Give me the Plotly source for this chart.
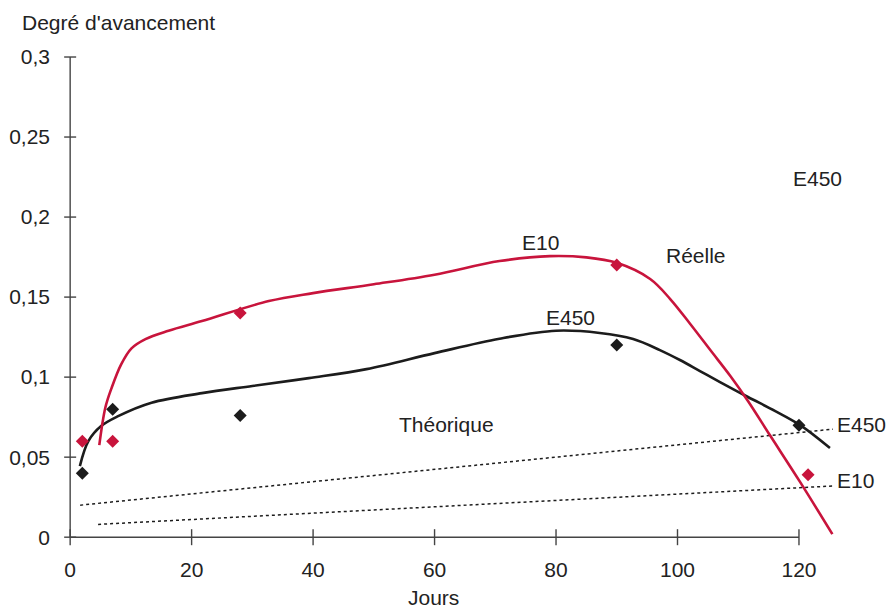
import plotly.graph_objects as go

# ---- data ----
days_obs = [2, 7, 28, 90, 120]
e450_obs = [0.04, 0.08, 0.076, 0.12, 0.07]
days_obs_e10 = [2, 7, 28, 90, 121.5]
e10_obs = [0.06, 0.06, 0.14, 0.17, 0.039]

e450_fit_x = [1.6, 3, 5.1, 7.9, 13.4, 21.7, 30, 39.3, 48.8, 60, 70.7, 80, 87.2, 92.7, 97.1, 100.4, 103.7, 107.0, 111.6, 116.1, 120.2, 125.1]
e450_fit_y = [0.0444, 0.06, 0.0694, 0.0756, 0.084, 0.09, 0.0945, 0.0994, 0.105, 0.115, 0.124, 0.129, 0.1276, 0.1238, 0.1169, 0.1107, 0.1038, 0.0969, 0.0876, 0.0788, 0.0700, 0.0557]

e10_fit_x = [4.8, 5.8, 6.8, 8.4, 10.1, 12.4, 16.2, 21.7, 32.7, 40, 50, 60, 70.7, 79, 85, 90.0, 95.5, 98.8, 102.1, 105.4, 108.7, 111.6, 115.2, 120.2, 125.5]
e10_fit_y = [0.0575, 0.081, 0.093, 0.108, 0.118, 0.1238, 0.129, 0.135, 0.1475, 0.1525, 0.158, 0.164, 0.1725, 0.1756, 0.1748, 0.1714, 0.1613, 0.1488, 0.1332, 0.1169, 0.1007, 0.0851, 0.0638, 0.0344, 0.0019]

theo_e450_x = [1.65, 125.6]
theo_e450_y = [0.02, 0.0675]
theo_e10_x = [4.6, 125.6]
theo_e10_y = [0.008, 0.032]

x_ticks = [0, 20, 40, 60, 80, 100, 120]
x_ticktext = ["0", "20", "40", "60", "80", "100", "120"]
y_ticks = [0, 0.05, 0.1, 0.15, 0.2, 0.25, 0.3]
y_ticktext = ["0", "0,05", "0,1", "0,15", "0,2", "0,25", "0,3"]

RED = "#c8143c"
BLK = "#1c1c1c"
AX = "#444444"
TXT = "#222222"
FONT = "Liberation Sans, Arial, Helvetica, sans-serif"

fig = go.Figure()

fig.add_trace(go.Scatter(x=theo_e450_x, y=theo_e450_y, mode="lines",
                         line=dict(color=BLK, width=1.5, dash="dot"), hoverinfo="skip"))
fig.add_trace(go.Scatter(x=theo_e10_x, y=theo_e10_y, mode="lines",
                         line=dict(color=BLK, width=1.5, dash="dot"), hoverinfo="skip"))
fig.add_trace(go.Scatter(x=e450_fit_x, y=e450_fit_y, mode="lines",
                         line=dict(color=BLK, width=2.6, shape="spline", smoothing=1)))
fig.add_trace(go.Scatter(x=e10_fit_x, y=e10_fit_y, mode="lines",
                         line=dict(color=RED, width=2.6, shape="spline", smoothing=1)))
fig.add_trace(go.Scatter(x=days_obs, y=e450_obs, mode="markers",
                         marker=dict(symbol="diamond", size=10, color=BLK)))
fig.add_trace(go.Scatter(x=days_obs_e10, y=e10_obs, mode="markers",
                         marker=dict(symbol="diamond", size=10, color=RED)))

shapes = []
# axis lines
shapes.append(dict(type="line", xref="x", yref="y", x0=0, x1=x_ticks[-1], y0=0, y1=0,
                   line=dict(color=AX, width=1.4)))
shapes.append(dict(type="line", xref="x", yref="y", x0=0, x1=0, y0=0, y1=y_ticks[-1],
                   line=dict(color=AX, width=1.4)))
for t in x_ticks:
    shapes.append(dict(type="line", xref="x", yref="y", x0=t, x1=t,
                       ysizemode="pixel", yanchor=0, y0=-8, y1=8,
                       line=dict(color=AX, width=1.4)))
for t in y_ticks:
    shapes.append(dict(type="line", xref="x", yref="y", y0=t, y1=t,
                       xsizemode="pixel", xanchor=0, x0=-6, x1=6,
                       line=dict(color=AX, width=1.4)))

annotations = [
    dict(text="Degré d'avancement", xref="paper", yref="paper", x=-0.046, y=1.0354,
         xanchor="left", yanchor="middle", showarrow=False),
    dict(text="Jours", xref="x", yref="paper", x=59.8, y=-0.0933,
         xanchor="center", yanchor="middle", showarrow=False),
    dict(text="E10", x=77.5, y=0.184, showarrow=False),
    dict(text="Réelle", x=103, y=0.176, showarrow=False),
    dict(text="E450", x=82.3, y=0.1375, showarrow=False),
    dict(text="Théorique", x=62, y=0.0703, showarrow=False),
    dict(text="E450", x=118.7, y=0.2244, xanchor="left", showarrow=False),
    dict(text="E450", xref="paper", x=1.0048, y=0.0707, xanchor="right", showarrow=False),
    dict(text="E10", x=132.6, y=0.0356, xanchor="right", showarrow=False),
]

fig.update_layout(
    width=890, height=610,
    margin=dict(l=58, r=6, t=41, b=60),
    paper_bgcolor="white", plot_bgcolor="white",
    showlegend=False,
    font=dict(family=FONT, size=21, color=TXT),
    shapes=shapes,
    annotations=annotations,
    xaxis=dict(range=[-2, 134], showgrid=False, zeroline=False, showline=False,
               automargin=False,
               tickmode="array", tickvals=x_ticks, ticktext=x_ticktext,
               ticks="", ticklabelstandoff=5),
    yaxis=dict(range=[-0.008, 0.31], showgrid=False, zeroline=False, showline=False,
               automargin=False,
               tickmode="array", tickvals=y_ticks, ticktext=y_ticktext,
               ticks="", ticklabelstandoff=7),
)

fig.write_html(
    "out.html",
    config={"displayModeBar": False},
    post_script="document.body.style.margin='0';document.body.style.overflow='hidden';",
)
